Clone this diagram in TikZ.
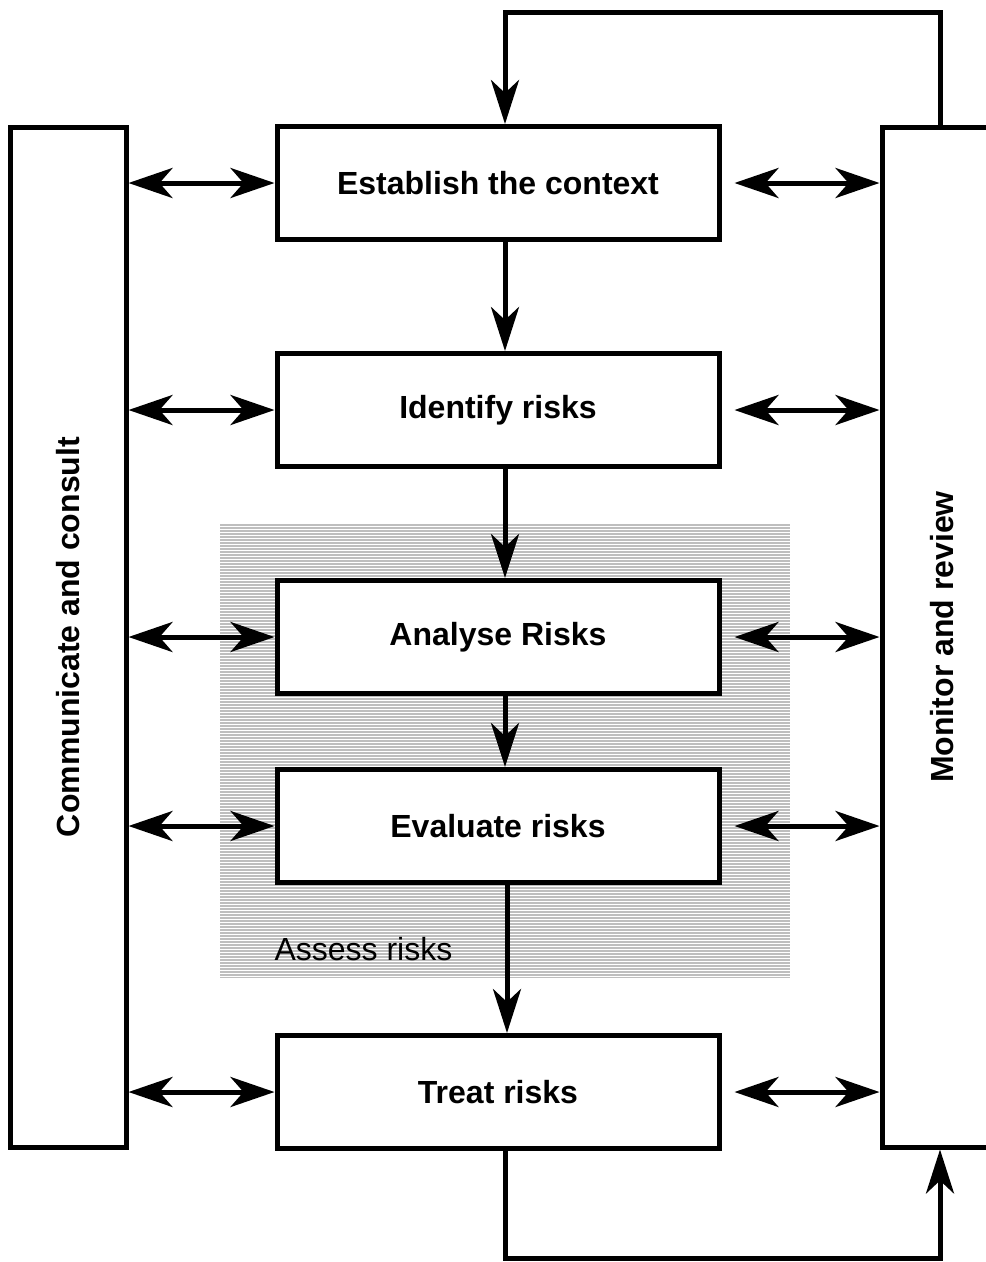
\documentclass[tikz,border=0pt]{standalone}
\usepackage{fontspec}
\setmainfont{Liberation Sans}
\usetikzlibrary{arrows.meta}
\begin{document}
\begin{tikzpicture}[x=1pt,y=-1pt,
  box/.style={draw,line width=5pt,fill=white,minimum width=442pt,minimum height=113pt,inner sep=0pt,font=\fontsize{32}{38}\selectfont\bfseries},
  sidebox/.style={draw,line width=5pt,fill=white,minimum height=1020pt,inner sep=0pt},
  sidetext/.style={rotate=90,font=\fontsize{32}{38}\selectfont\bfseries},
  tip/.style={Stealth[length=44pt,width=28pt,inset=13pt]},
  arr/.style={line width=5pt,-{Stealth[length=44pt,width=28pt,inset=13pt]}},
  arrr/.style={line width=5pt,{Stealth[length=44pt,width=30pt,inset=13pt]}-{Stealth[length=44pt,width=30pt,inset=13pt]}},
  loopline/.style={line width=5pt}]
\useasboundingbox (0,0) rectangle (986,1262);
\clip (0,0) rectangle (986,1262);
% shaded assess area
\fill[fill={rgb,255:red,190;green,190;blue,190}] (220,524) rectangle (790,978);
\foreach \yy in {526,529,...,977} \draw[white,line width=1pt] (220,\yy) -- (790,\yy);
\node[anchor=west,font=\fontsize{32}{38}\selectfont] (assess) at (271,949) {Assess risks};
% side boxes
\node[sidebox,minimum width=116pt] (lbox) at (68,637) {};
\node[sidetext] at (lbox.center) {Communicate and consult};
\node[sidebox,minimum width=120pt] (rbox) at (942,637) {};
\node[sidetext] at (rbox.center) {Monitor and review};
% main boxes
\node[box] (est) at (498,183) {Establish the context};
\node[box] (ide) at (498,410) {Identify risks};
\node[box] (ana) at (498,637) {Analyse Risks};
\node[box] (eva) at (498,826) {Evaluate risks};
\node[box] (tre) at (498,1092) {Treat risks};
% loop coordinates
\coordinate (tr) at (940,12);
\coordinate (tl) at (505,12);
\coordinate (bl) at (505,1258);
\coordinate (br) at (940,1258);
\coordinate (ev) at (507,0);
% vertical flow
\draw[arr] (est.south -| tl) -- (ide.north -| tl);
\draw[arr] (ide.south -| tl) -- (ana.north -| tl);
\draw[arr] (ana.south -| tl) -- (eva.north -| tl);
\draw[arr] (eva.south -| ev) -- (tre.north -| ev);
% loops
\draw[arr] (rbox.north -| tr) -- (tr) -- (tl) -- (est.north -| tl);
\draw[arr] (tre.south -| bl) -- (bl) -- (br) -- (rbox.south -| br);
% side double arrows
\foreach \n in {est,ide,ana,eva,tre}{
  \draw[arrr] (lbox.east |- \n.west) -- (\n.west);
  \draw[arrr] ([xshift=13pt]\n.east) -- (rbox.west |- \n.east);
}
\end{tikzpicture}
\end{document}
